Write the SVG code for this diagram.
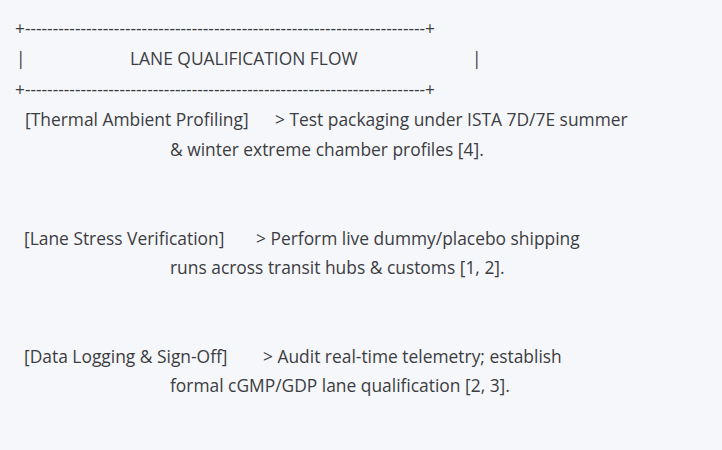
<svg xmlns="http://www.w3.org/2000/svg" width="722" height="450" viewBox="0 0 722 450">
<style>
text{font-family:"Open Sans","Noto Sans","Liberation Sans",sans-serif;font-size:17.4px;fill:#3c3d42;}
</style>
<rect width="722" height="450" fill="#f6f7fa"/>
<g id="header">
<text x="15" y="35" textLength="420" lengthAdjust="spacingAndGlyphs">+------------------------------------------------------------------------+</text>
<text x="16" y="65">|</text>
<text x="130" y="65">LANE QUALIFICATION FLOW</text>
<text x="472" y="65">|</text>
<text x="15" y="95.5" textLength="420" lengthAdjust="spacingAndGlyphs">+------------------------------------------------------------------------+</text>
</g>
<g id="step1">
<text x="25" y="125.5">[Thermal Ambient Profiling]</text>
<text x="275" y="125.5">&gt; Test packaging under ISTA 7D/7E summer</text>
<text x="170" y="155.5">&amp; winter extreme chamber profiles [4].</text>
</g>
<g id="step2">
<text x="24" y="244.5">[Lane Stress Verification]</text>
<text x="256" y="244.5">&gt; Perform live dummy/placebo shipping</text>
<text x="170" y="274">runs across transit hubs &amp; customs [1, 2].</text>
</g>
<g id="step3">
<text x="24" y="363">[Data Logging &amp; Sign-Off]</text>
<text x="263" y="363">&gt; Audit real-time telemetry; establish</text>
<text x="170" y="392">formal cGMP/GDP lane qualification [2, 3].</text>
</g>
<g id="connectors"></g>
</svg>
